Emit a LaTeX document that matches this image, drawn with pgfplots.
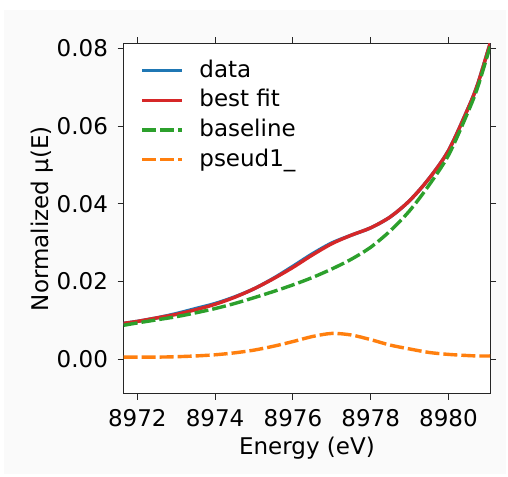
\documentclass[border=0pt]{standalone}
\usepackage{fontspec}
\setmainfont{DejaVu Sans}
\usepackage{pgfplots}
\pgfplotsset{compat=1.18}

\definecolor{tabblue}{HTML}{1F77B4}
\definecolor{taborange}{HTML}{FF7F0E}
\definecolor{tabgreen}{HTML}{2CA02C}
\definecolor{tabred}{HTML}{D62728}
\definecolor{figbg}{HTML}{FAFAFA}

\newcommand{\mplfont}{\fontsize{11.5}{13.5}\selectfont}

% E (eV), normalized mu(E)
\pgfplotstableread{
E        mu
8971.65  0.0092
8972.00  0.0097
8972.50  0.0106
8973.00  0.0117
8973.50  0.0130
8974.00  0.0143
8974.50  0.0160
8975.00  0.0181
8975.50  0.0208
8976.00  0.0239
8976.50  0.0271
8977.00  0.0299
8977.50  0.0319
8978.00  0.0338
8978.50  0.0366
8979.00  0.0408
8979.50  0.0465
8980.00  0.0537
8980.50  0.0645
8980.75  0.0708
8981.07  0.0813
}\datatab

\pgfplotstableread{
E        mu
8971.65  0.0092
8972.00  0.0097
8972.50  0.0106
8973.00  0.0115
8973.50  0.0127
8974.00  0.0141
8974.50  0.0159
8975.00  0.0181
8975.50  0.0207
8976.00  0.0236
8976.50  0.0268
8977.00  0.0297
8977.50  0.0319
8978.00  0.0338
8978.50  0.0366
8979.00  0.0408
8979.50  0.0465
8980.00  0.0537
8980.50  0.0645
8980.75  0.0708
8981.07  0.0813
}\fittab

\pgfplotstableread{
E        mu
8971.65  0.0087
8972.00  0.0093
8972.50  0.0101
8973.00  0.0109
8973.50  0.0119
8974.00  0.0130
8974.50  0.0143
8975.00  0.0158
8975.50  0.0174
8976.00  0.0191
8976.50  0.0210
8977.00  0.0232
8977.50  0.0257
8978.00  0.0288
8978.50  0.0330
8979.00  0.0382
8979.50  0.0448
8980.00  0.0525
8980.50  0.0636
8980.75  0.0700
8981.07  0.0805
}\basetab

\pgfplotstableread{
E        mu
8971.65  0.0005
8972.00  0.0005
8972.50  0.0005
8973.00  0.0006
8973.50  0.0008
8974.00  0.0011
8974.50  0.0016
8975.00  0.0023
8975.50  0.0033
8976.00  0.0045
8976.50  0.0058
8977.00  0.0066
8977.50  0.0062
8978.00  0.0050
8978.50  0.0036
8979.00  0.0026
8979.50  0.0017
8980.00  0.0012
8980.50  0.0009
8980.75  0.0008
8981.07  0.0008
}\peaktab

\begin{document}
\begin{tikzpicture}
\path[use as bounding box] (-61.85pt,-41pt) rectangle (192.15pt,197pt);
\fill[figbg] (-59.85pt,-40pt) rectangle (191.15pt,192pt);
\begin{axis}[
  at={(0pt,0pt)}, anchor=south west,
  scale only axis, width=183.2pt, height=175.3pt,
  xmin=8971.65, xmax=8981.07, ymin=-0.009, ymax=0.0813,
  axis background/.style={fill=white},
  axis line style={line width=0.5pt, black!85},
  tick align=outside, major tick length=3pt,
  tick style={black!85, line width=0.5pt},
  xtick={8972,8974,8976,8978,8980},
  ytick={0,0.02,0.04,0.06,0.08},
  scaled y ticks=false,
  xticklabel style={/pgf/number format/1000 sep={}, inner sep=0pt, anchor=north, yshift=-4.5pt},
  yticklabel style={/pgf/number format/fixed, /pgf/number format/fixed zerofill,
    /pgf/number format/precision=2, inner sep=0pt, anchor=east, xshift=-4.7pt},
  /pgf/number format/assume math mode=true,
  ticklabel style={font=\mplfont},
  xlabel={Energy (eV)},
  ylabel={Normalized µ(E)},
  xlabel style={font=\mplfont, at={(axis description cs:0.5,0)}, anchor=north, inner sep=0pt, yshift=-21.5pt},
  ylabel style={font=\mplfont, at={(axis description cs:0,0.5)}, anchor=north, inner sep=0pt, yshift=46.6pt},
  legend cell align=left,
  legend image code/.code={\draw[#1] (0pt,0pt) -- (20pt,0pt);},
  legend style={draw=none, fill=none, font=\mplfont,
    at={(axis description cs:0,1)}, anchor=north west,
    xshift=8.15pt, yshift=-7.7pt, inner sep=0pt,
    row sep=3.35pt, column sep=7.8pt,
    nodes={inner sep=0pt, text height=9pt, text depth=2.5pt}},
  every axis plot/.append style={line width=1.7pt, smooth, tension=0.5},
]
\addplot[tabblue] table[x=E,y=mu] {\datatab};
\addlegendentry{data}
\addplot[tabred] table[x=E,y=mu] {\fittab};
\addlegendentry{best fit}
\addplot[tabgreen, dash pattern=on 7pt off 2pt] table[x=E,y=mu] {\basetab};
\addlegendentry{baseline}
\addplot[taborange, dash pattern=on 7pt off 2pt] table[x=E,y=mu] {\peaktab};
\addlegendentry{pseud1\_}
\end{axis}
\end{tikzpicture}
\end{document}
